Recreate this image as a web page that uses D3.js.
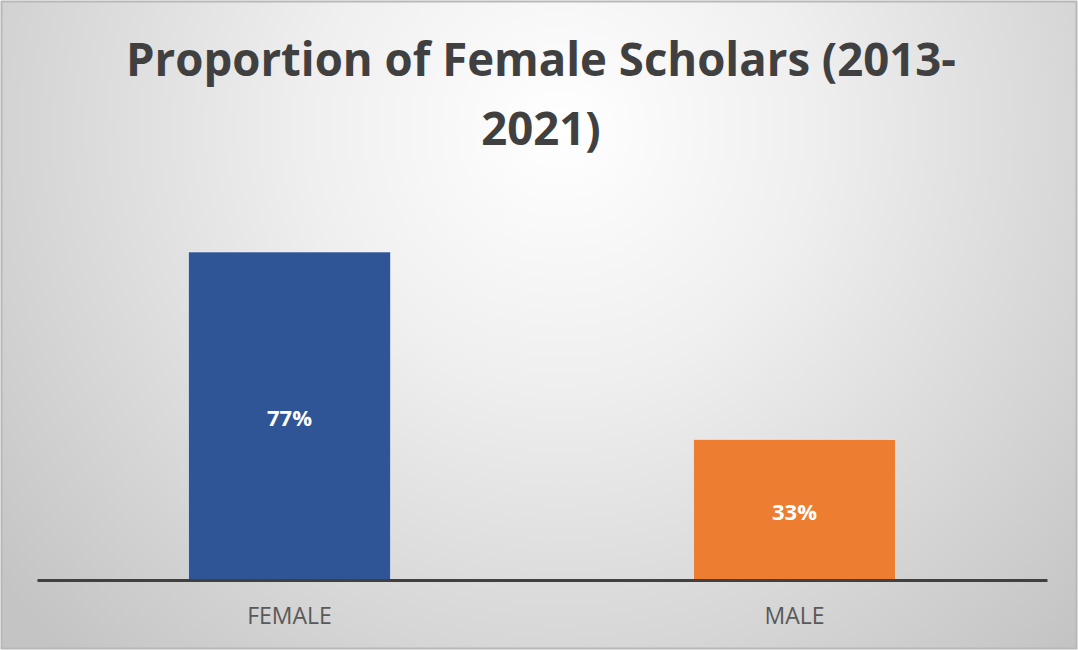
<!DOCTYPE html>
<html>
<head>
<meta charset="utf-8">
<script src="https://cdn.jsdelivr.net/npm/d3@7"></script>
<style>
  html, body { margin: 0; padding: 0; background: #ffffff; }
  svg { display: block; }
</style>
</head>
<body>
<div id="chart"></div>
<script>

  //**************************************************************************
  //** data
  //**************************************************************************
    var categories = ["FEMALE", "MALE"];
    var values = [77, 33];
    var labels = ["77%", "33%"];
    var colors = ["#2F5597", "#ED7D31"];
    var titleLines = ["Proportion of Female Scholars (2013-", "2021)"];


  //**************************************************************************
  //** layout
  //**************************************************************************
    var width = 1078, height = 650;
    var plot = {left: 37, right: 1047, top: 154, bottom: 580};

    var svg = d3.select("#chart").append("svg")
        .attr("width", width)
        .attr("height", height);

  //Background gradient
    var defs = svg.append("defs");
    var grad = defs.append("radialGradient")
        .attr("id", "bg")
        .attr("gradientUnits", "userSpaceOnUse")
        .attr("cx", 560).attr("cy", 130)
        .attr("r", 720);
    grad.append("stop").attr("offset", "0%").attr("stop-color", "#ffffff");
    grad.append("stop").attr("offset", "35%").attr("stop-color", "#efefef");
    grad.append("stop").attr("offset", "100%").attr("stop-color", "#c4c4c4");

    svg.append("rect")
        .attr("x", 1.5).attr("y", 1.5)
        .attr("width", width - 3).attr("height", height - 3)
        .attr("fill", "url(#bg)")
        .attr("stroke", "#b8b8b8")
        .attr("stroke-width", 2);


  //**************************************************************************
  //** scales
  //**************************************************************************
    var x = d3.scaleBand()
        .domain(categories)
        .range([plot.left, plot.right])
        .paddingInner(0.6)
        .paddingOuter(0.3);

    var y = d3.scaleLinear()
        .domain([0, 100])
        .range([plot.bottom, plot.top]);


  //**************************************************************************
  //** bars
  //**************************************************************************
    var g = svg.append("g");

    g.selectAll("rect.bar")
        .data(values)
        .enter()
        .append("rect")
        .attr("class", "bar")
        .attr("x", function(d, i){ return x(categories[i]); })
        .attr("y", function(d){ return y(d); })
        .attr("width", x.bandwidth())
        .attr("height", function(d){ return y(0) - y(d); })
        .attr("fill", function(d, i){ return colors[i]; })
        .attr("stroke", "rgba(255,255,255,0.55)")
        .attr("stroke-width", 1);

  //Data labels
    g.selectAll("text.label")
        .data(values)
        .enter()
        .append("text")
        .attr("class", "label")
        .attr("x", function(d, i){ return x(categories[i]) + x.bandwidth()/2; })
        .attr("y", function(d){ return (y(d) + y(0))/2; })
        .attr("dy", "0.45em")
        .attr("text-anchor", "middle")
        .style("font-family", "'Open Sans', sans-serif")
        .style("font-weight", "bold")
        .style("font-size", "22px")
        .style("fill", "#ffffff")
        .text(function(d, i){ return labels[i]; });


  //**************************************************************************
  //** axis
  //**************************************************************************
    var xAxis = svg.append("g")
        .attr("transform", "translate(0," + y(0) + ")")
        .call(d3.axisBottom(x).tickSize(0).tickPadding(28));

    xAxis.select(".domain")
        .attr("stroke", "#404040")
        .attr("stroke-width", 3);

    xAxis.selectAll("text")
        .style("font-family", "'Open Sans', sans-serif")
        .style("font-size", "23px")
        .style("fill", "#595959");


  //**************************************************************************
  //** title
  //**************************************************************************
    var title = svg.append("text")
        .attr("text-anchor", "middle")
        .style("font-family", "'Open Sans', sans-serif")
        .style("font-weight", "bold")
        .style("font-size", "46px")
        .style("fill", "#404040");

    title.selectAll("tspan")
        .data(titleLines)
        .enter()
        .append("tspan")
        .attr("x", 541)
        .attr("y", function(d, i){ return 76 + i*69; })
        .text(function(d){ return d; });

  //Fit first line to the target width
    var first = title.select("tspan").node();
    var w = first.getComputedTextLength();
    if (w > 830){
        title.selectAll("tspan").each(function(){
            var node = this;
            var len = node.getComputedTextLength();
            d3.select(node)
                .attr("textLength", len * 830 / w)
                .attr("lengthAdjust", "spacingAndGlyphs");
        });
    }

</script>
</body>
</html>
